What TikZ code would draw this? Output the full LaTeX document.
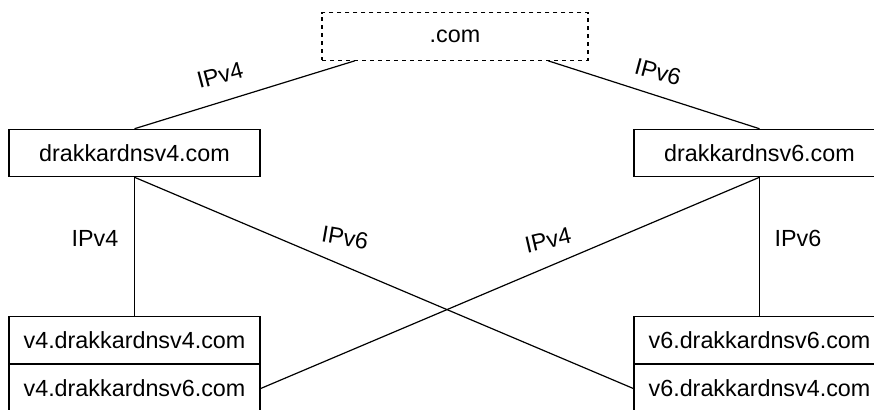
\documentclass[tikz,border=0pt]{standalone}
\usepackage{fontspec}
\setmainfont{Liberation Sans}
\usetikzlibrary{calc}
\tikzset{
  box/.style={draw, line width=0.9pt, minimum width=188.25pt, minimum height=35.5pt, inner sep=0pt},
  lbl/.style={inner sep=0pt}
}
\begin{document}
\begin{tikzpicture}[x=0.75pt, y=-0.75pt, font=\fontsize{17.5}{20}\selectfont]
  \useasboundingbox (0,0) rectangle (874,410);
  \node[box, dashed, dash pattern=on 3pt off 3pt, minimum width=199.5pt] (com) at (455,36.5) {.com};
  \node[box] (v4) at (134.5,153) {drakkardnsv4.com};
  \node[box] (v6) at (759.5,153) {drakkardnsv6.com};
  \node[box] (v4a) at (134.5,340) {v4.drakkardnsv4.com};
  \node[box, anchor=north] (v4b) at (v4a.south) {v4.drakkardnsv6.com};
  \node[box] (v6a) at (759.5,340) {v6.drakkardnsv6.com};
  \node[box, anchor=north] (v6b) at (v6a.south) {v6.drakkardnsv4.com};
  \begin{scope}[-, line width=0.9pt]
    \draw ($(com.south)+(-100,0)$) to (v4.north);
    \draw ($(com.south)+(93,0)$) to (v6.north);
    \draw (v4.south) to (v4a.north);
    \draw (v6.south) to (v6a.north);
    \draw (v4.south) to (v6b.west);
    \draw (v6.south) to (v4b.east);
  \end{scope}
  \node[lbl, rotate=15] (t4) at (220,75) {IPv4};
  \node[lbl, rotate=-15] (t6) at (658,72) {IPv6};
  \node[lbl] (l4) at (95,238) {IPv4};
  \node[lbl] (r6) at (798,238) {IPv6};
  \node[lbl, rotate=-10] (c6) at (345,238) {IPv6};
  \node[lbl, rotate=13] (c4) at (548,240) {IPv4};
\end{tikzpicture}
\end{document}
